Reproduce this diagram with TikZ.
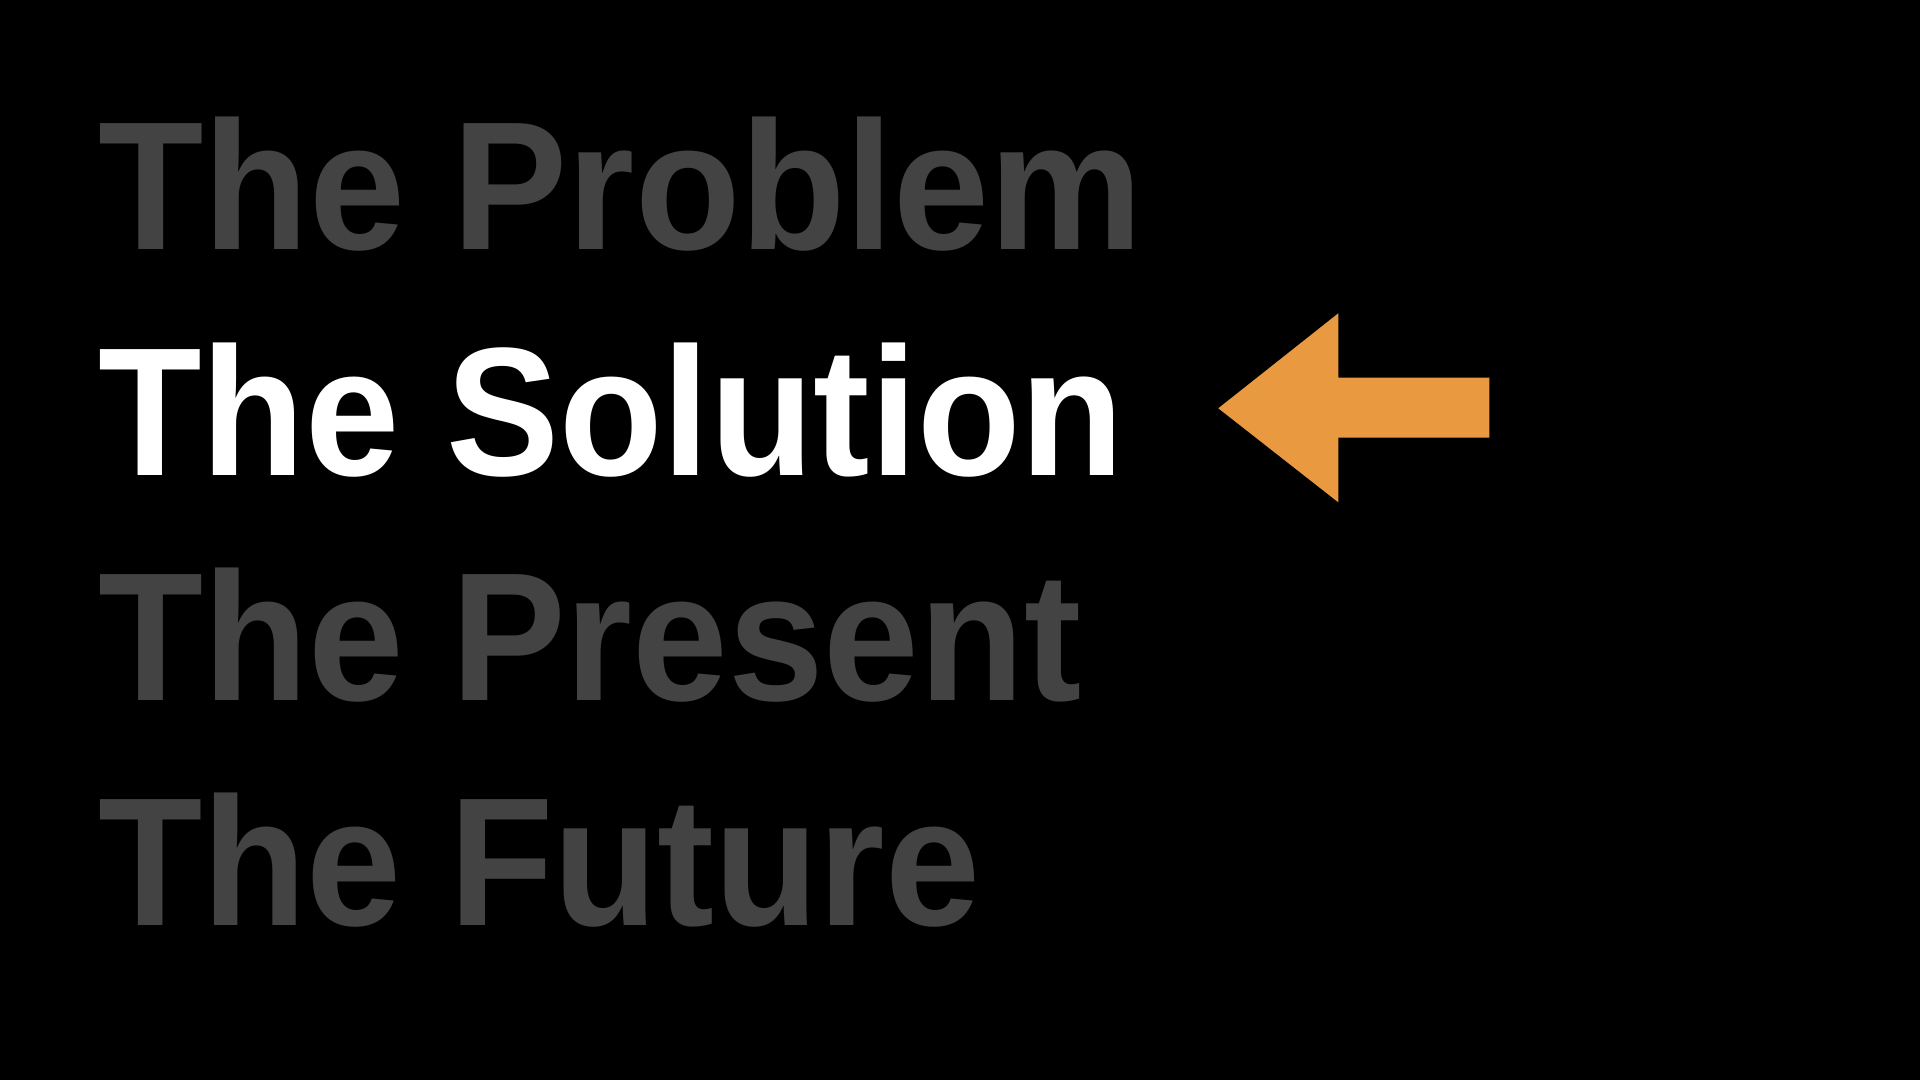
\documentclass[tikz,border=0pt]{standalone}
\usepackage{fontspec}
\setmainfont{Liberation Sans}
\definecolor{dimtext}{HTML}{434343}
\definecolor{arroworange}{HTML}{E99A40}
\begin{document}
\begin{tikzpicture}[x=1pt,y=1pt,
  item/.style={anchor=base west, inner sep=0pt, font=\fontsize{183}{200}\selectfont\bfseries},
  dim/.style={item, text=dimtext},
  active/.style={item, text=white},
  pointer/.style={fill=arroworange, draw=none}]
\fill[black] (0,0) rectangle (1920,1080);
\useasboundingbox (0,0) rectangle (1920,1080);
\node[dim, xscale=0.943] (problem) at (98,830.2) {The Problem};
\node[active, xscale=0.926] (solution) at (98,604.9) {The Solution};
\node[dim, xscale=0.939] (present) at (98,379.6) {The Present};
\node[dim, xscale=0.933] (future) at (98,154.3) {The Future};
\fill[pointer] (1218.3,671.7) -- (1338.3,766.7) -- (1338.3,702.3) -- (1489.3,702.3)
  -- (1489.3,642.3) -- (1338.3,642.3) -- (1338.3,577.7) -- cycle;
\end{tikzpicture}
\end{document}
